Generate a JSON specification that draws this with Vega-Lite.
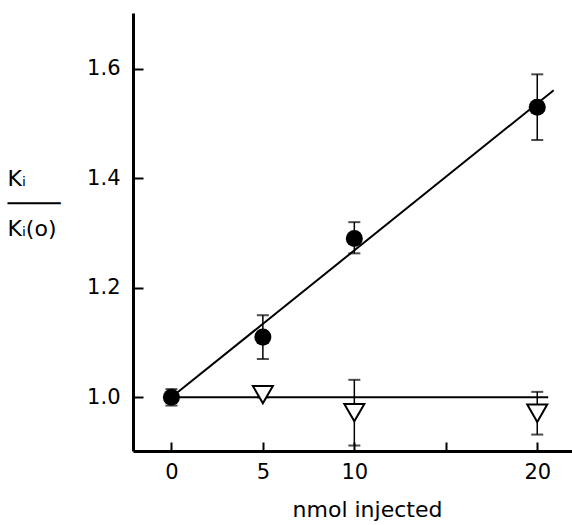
{
  "$schema": "https://vega.github.io/schema/vega-lite/v6.json",
  "width": 439,
  "height": 438,
  "autosize": {"type": "none"},
  "padding": {"left": 133, "top": 13, "right": 0, "bottom": 74},
  "background": "white",
  "config": {
    "view": {"stroke": null},
    "font": "DejaVu Sans",
    "axis": {"grid": false, "domainColor": "black", "domainWidth": 3, "tickColor": "black", "tickWidth": 2, "labelColor": "black", "titleColor": "black", "labelFont": "DejaVu Sans", "titleFont": "DejaVu Sans", "titleFontWeight": "normal"}
  },
  "datasets": {
    "points": [
      {"series": "A", "x": 0, "y": 1.0, "lo": 0.985, "hi": 1.015},
      {"series": "A", "x": 5, "y": 1.11, "lo": 1.07, "hi": 1.15},
      {"series": "A", "x": 10, "y": 1.29, "lo": 1.263, "hi": 1.32},
      {"series": "A", "x": 20, "y": 1.53, "lo": 1.47, "hi": 1.59},
      {"series": "B", "x": 5, "y": 1.005, "lo": 1.0, "hi": 1.01},
      {"series": "B", "x": 10, "y": 0.972, "lo": 0.912, "hi": 1.032},
      {"series": "B", "x": 20, "y": 0.971, "lo": 0.932, "hi": 1.01}
    ],
    "fits": [
      {"series": "A", "x": 0, "y": 1.0},
      {"series": "A", "x": 20.9, "y": 1.561},
      {"series": "B", "x": 0, "y": 1.0},
      {"series": "B", "x": 20.6, "y": 1.0}
    ]
  },
  "encoding": {
    "x": {
      "field": "x", "type": "quantitative",
      "scale": {"domain": [-2.1, 21.9], "nice": false, "zero": false},
      "axis": {
        "values": [0, 5, 10, 15, 20],
        "labelExpr": "datum.value == 15 ? '' : datum.label",
        "tickSize": -9, "labelPadding": 19, "labelFontSize": 21,
        "title": "nmol injected", "titleFontSize": 22,
        "titleX": 234, "titleY": 65, "titleAlign": "center", "titleBaseline": "alphabetic"
      }
    },
    "y": {
      "field": "y", "type": "quantitative",
      "scale": {"domain": [0.902, 1.702], "nice": false, "zero": false},
      "axis": {
        "values": [1.0, 1.2, 1.4, 1.6], "format": ".1f",
        "tickSize": -10, "labelPadding": 23, "labelFontSize": 21,
        "title": ["Kᵢ", "────", "Kᵢ(o)"], "titleFontSize": 22, "titleLineHeight": 25,
        "titleAngle": 0, "titleAlign": "left", "titleBaseline": "middle",
        "titleX": -126, "titleY": 165
      }
    }
  },
  "layer": [
    {
      "data": {"name": "fits"},
      "mark": {"type": "line", "color": "black", "strokeWidth": 2},
      "encoding": {"detail": {"field": "series"}}
    },
    {
      "data": {"name": "points"},
      "mark": {"type": "rule", "color": "black", "strokeWidth": 1.5},
      "encoding": {"y": {"field": "lo", "type": "quantitative"}, "y2": {"field": "hi"}}
    },
    {
      "data": {"name": "points"},
      "mark": {"type": "tick", "color": "black", "orient": "horizontal", "size": 12, "thickness": 2},
      "encoding": {"y": {"field": "lo", "type": "quantitative"}}
    },
    {
      "data": {"name": "points"},
      "mark": {"type": "tick", "color": "black", "orient": "horizontal", "size": 12, "thickness": 2},
      "encoding": {"y": {"field": "hi", "type": "quantitative"}}
    },
    {
      "data": {"name": "points"},
      "transform": [{"filter": "datum.series == 'A'"}],
      "mark": {"type": "point", "shape": "circle", "filled": true, "color": "black", "size": 290, "opacity": 1}
    },
    {
      "data": {"name": "points"},
      "transform": [{"filter": "datum.series == 'B'"}],
      "mark": {"type": "point", "shape": "triangle-down", "filled": false, "fill": "white", "fillOpacity": 1, "stroke": "black", "strokeWidth": 2, "size": 400, "opacity": 1}
    }
  ]
}
